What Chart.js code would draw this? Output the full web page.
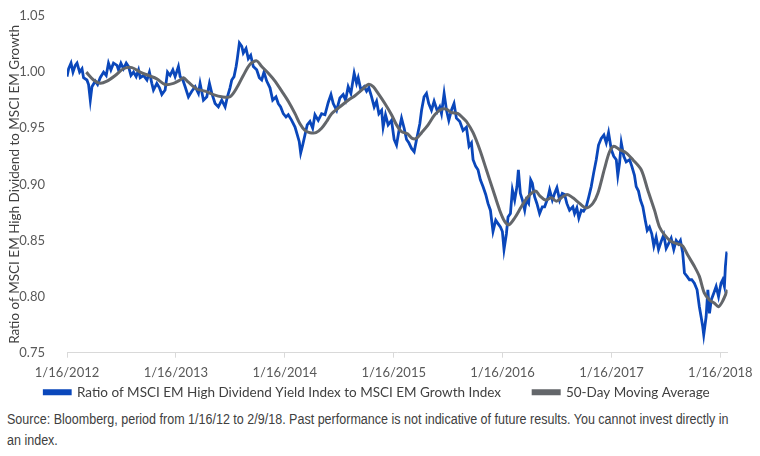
<!DOCTYPE html>
<html>
<head>
<meta charset="utf-8">
<script src="https://cdn.jsdelivr.net/npm/chart.js@4.4.1/dist/chart.umd.min.js"></script>
<style>
  body { margin: 0; background: #fff; }
  #wrap { position: relative; width: 760px; height: 456px; overflow: hidden; }
  #chart-box { position: absolute; left: 0; top: 0; width: 760px; height: 409px; }
  #note {
    position: absolute; left: 7px; top: 409px; white-space: nowrap;
    font-family: "Liberation Sans", Arial, sans-serif;
    font-size: 14px; line-height: 21px; color: #404040;
    transform: scaleX(0.895); transform-origin: left top;
  }
</style>
</head>
<body>
<div id="wrap">
  <div id="chart-box"><canvas id="ratioChart" width="760" height="409"></canvas></div>
  <div id="note">Source: Bloomberg, period from 1/16/12 to 2/9/18. Past performance is not indicative of future results. You cannot invest directly in<br>an index.</div>
</div>
<script>
// x = years since 1/16/2012
const startYear = 2012;
const tickYears = [0, 1, 2, 3, 4, 5, 6];

const ratioX = [
  0.000, 0.015, 0.037, 0.055, 0.076, 0.092, 0.116, 0.138, 0.152, 0.183, 0.198, 0.214, 0.229, 0.260, 0.281, 0.305,
  0.336, 0.360, 0.381, 0.403, 0.427, 0.459, 0.473, 0.495, 0.519, 0.544, 0.565, 0.587, 0.611, 0.635, 0.657, 0.672,
  0.702, 0.734, 0.757, 0.779, 0.794, 0.825, 0.849, 0.871, 0.901, 0.923, 0.947, 0.972, 0.993, 1.023, 1.039, 1.064,
  1.085, 1.115, 1.146, 1.177, 1.207, 1.222, 1.253, 1.284, 1.308, 1.330, 1.360, 1.390, 1.421, 1.452, 1.473, 1.497,
  1.513, 1.534, 1.553, 1.564, 1.583, 1.605, 1.619, 1.644, 1.665, 1.687, 1.711, 1.742, 1.766, 1.788, 1.809, 1.834,
  1.864, 1.889, 1.919, 1.940, 1.962, 1.986, 2.011, 2.032, 2.063, 2.094, 2.115, 2.133, 2.146, 2.164, 2.185, 2.206,
  2.231, 2.256, 2.277, 2.307, 2.338, 2.369, 2.399, 2.424, 2.445, 2.476, 2.506, 2.536, 2.558, 2.582, 2.607, 2.637,
  2.659, 2.674, 2.699, 2.729, 2.751, 2.772, 2.797, 2.821, 2.843, 2.864, 2.889, 2.903, 2.925, 2.949, 2.980, 3.004,
  3.026, 3.047, 3.072, 3.096, 3.118, 3.139, 3.164, 3.188, 3.210, 3.240, 3.256, 3.279, 3.301, 3.322, 3.347, 3.371,
  3.402, 3.423, 3.439, 3.463, 3.485, 3.506, 3.530, 3.554, 3.576, 3.607, 3.637, 3.668, 3.692, 3.714, 3.729, 3.753,
  3.774, 3.796, 3.820, 3.845, 3.866, 3.888, 3.912, 3.937, 3.958, 3.980, 3.998, 4.013, 4.035, 4.050, 4.072, 4.090,
  4.111, 4.132, 4.145, 4.163, 4.182, 4.203, 4.218, 4.239, 4.258, 4.273, 4.294, 4.315, 4.340, 4.365, 4.386, 4.416,
  4.432, 4.457, 4.478, 4.499, 4.524, 4.548, 4.569, 4.590, 4.615, 4.645, 4.661, 4.682, 4.700, 4.723, 4.744, 4.768,
  4.792, 4.814, 4.836, 4.860, 4.881, 4.906, 4.930, 4.952, 4.973, 4.998, 5.021, 5.044, 5.058, 5.074, 5.090, 5.113,
  5.135, 5.166, 5.187, 5.211, 5.227, 5.248, 5.266, 5.288, 5.310, 5.328, 5.349, 5.370, 5.389, 5.410, 5.432, 5.456,
  5.480, 5.502, 5.523, 5.548, 5.572, 5.594, 5.615, 5.633, 5.654, 5.670, 5.694, 5.716, 5.737, 5.761, 5.786, 5.807,
  5.823, 5.838, 5.847, 5.869, 5.885, 5.900, 5.916, 5.939, 5.961, 5.983, 6.006, 6.021, 6.037, 6.046, 6.058, 6.066
];
const ratioY = [
  0.996, 1.003, 1.008, 1.000, 1.006, 1.008, 1.000, 1.003, 0.995, 0.993, 0.989, 0.975, 0.987, 0.992, 0.989, 0.995,
  1.000, 0.997, 1.008, 1.002, 1.008, 1.006, 1.002, 1.008, 1.003, 1.008, 1.005, 0.997, 1.000, 0.996, 1.002, 0.995,
  0.997, 0.993, 1.000, 0.990, 0.984, 0.990, 0.986, 0.980, 0.984, 1.000, 0.997, 1.002, 0.996, 1.005, 0.996, 0.993,
  0.987, 0.978, 0.983, 0.987, 0.981, 0.990, 0.975, 0.978, 0.990, 0.981, 0.972, 0.969, 0.975, 0.969, 0.978, 0.986,
  0.993, 0.996, 1.005, 1.012, 1.026, 1.023, 1.017, 1.021, 1.012, 1.015, 1.005, 1.002, 0.995, 0.993, 1.000, 0.992,
  0.986, 0.975, 0.978, 0.972, 0.969, 0.963, 0.960, 0.962, 0.957, 0.951, 0.944, 0.938, 0.928, 0.935, 0.944, 0.953,
  0.956, 0.950, 0.962, 0.957, 0.963, 0.962, 0.973, 0.980, 0.972, 0.966, 0.977, 0.980, 0.975, 0.987, 0.981, 0.999,
  0.990, 0.995, 0.984, 0.987, 0.983, 0.986, 0.978, 0.969, 0.974, 0.963, 0.966, 0.951, 0.962, 0.953, 0.957, 0.940,
  0.935, 0.947, 0.959, 0.950, 0.940, 0.937, 0.932, 0.929, 0.940, 0.954, 0.966, 0.978, 0.981, 0.972, 0.966, 0.974,
  0.965, 0.969, 0.963, 0.981, 0.966, 0.957, 0.966, 0.972, 0.959, 0.956, 0.948, 0.951, 0.934, 0.937, 0.922, 0.916,
  0.913, 0.904, 0.898, 0.891, 0.883, 0.877, 0.858, 0.868, 0.865, 0.862, 0.858, 0.842, 0.856, 0.871, 0.874, 0.895,
  0.886, 0.898, 0.913, 0.892, 0.886, 0.877, 0.886, 0.883, 0.904, 0.901, 0.889, 0.883, 0.874, 0.880, 0.880, 0.888,
  0.895, 0.886, 0.892, 0.897, 0.886, 0.892, 0.891, 0.883, 0.877, 0.880, 0.874, 0.879, 0.870, 0.877, 0.876, 0.880,
  0.889, 0.898, 0.910, 0.922, 0.935, 0.941, 0.944, 0.937, 0.946, 0.931, 0.925, 0.922, 0.908, 0.919, 0.937, 0.925,
  0.920, 0.922, 0.916, 0.908, 0.898, 0.894, 0.886, 0.880, 0.868, 0.859, 0.862, 0.856, 0.845, 0.853, 0.842, 0.849,
  0.855, 0.843, 0.847, 0.852, 0.842, 0.850, 0.847, 0.850, 0.839, 0.821, 0.818, 0.815, 0.815, 0.812, 0.806, 0.791,
  0.782, 0.773, 0.766, 0.782, 0.806, 0.785, 0.797, 0.803, 0.809, 0.800, 0.812, 0.815, 0.809, 0.827, 0.839, 0.839
];

const maX = [
  0.177, 0.244, 0.305, 0.367, 0.443, 0.519, 0.596, 0.672, 0.748, 0.825, 0.901, 0.978, 1.039, 1.069, 1.115, 1.192,
  1.268, 1.344, 1.421, 1.497, 1.559, 1.619, 1.681, 1.742, 1.788, 1.849, 1.910, 1.972, 2.032, 2.094, 2.139, 2.185,
  2.231, 2.286, 2.338, 2.384, 2.430, 2.506, 2.582, 2.644, 2.705, 2.766, 2.812, 2.857, 2.919, 2.980, 3.026, 3.072,
  3.127, 3.169, 3.210, 3.256, 3.316, 3.377, 3.439, 3.485, 3.530, 3.591, 3.637, 3.668, 3.729, 3.790, 3.851, 3.912,
  3.973, 4.019, 4.059, 4.111, 4.172, 4.233, 4.303, 4.340, 4.395, 4.448, 4.494, 4.539, 4.591, 4.646, 4.707, 4.768,
  4.829, 4.875, 4.936, 4.982, 5.021, 5.074, 5.135, 5.196, 5.273, 5.333, 5.395, 5.441, 5.487, 5.548, 5.608, 5.654,
  5.700, 5.761, 5.807, 5.853, 5.900, 5.946, 5.983, 6.021, 6.066
];
const maY = [
  1.000, 0.993, 0.990, 0.992, 0.997, 1.003, 1.004, 1.000, 0.997, 0.994, 0.989, 0.990, 0.993, 0.995, 0.991, 0.985,
  0.983, 0.980, 0.978, 0.978, 0.986, 0.997, 1.007, 1.010, 1.005, 0.999, 0.992, 0.983, 0.974, 0.963, 0.954, 0.948,
  0.946, 0.946, 0.950, 0.956, 0.963, 0.969, 0.975, 0.979, 0.984, 0.989, 0.987, 0.981, 0.972, 0.962, 0.953, 0.947,
  0.945, 0.941, 0.941, 0.946, 0.953, 0.962, 0.967, 0.967, 0.964, 0.963, 0.959, 0.956, 0.946, 0.931, 0.913, 0.895,
  0.877, 0.867, 0.864, 0.870, 0.880, 0.889, 0.894, 0.890, 0.886, 0.888, 0.885, 0.888, 0.891, 0.888, 0.883, 0.879,
  0.883, 0.892, 0.914, 0.929, 0.934, 0.931, 0.928, 0.922, 0.913, 0.895, 0.877, 0.862, 0.855, 0.849, 0.847, 0.845,
  0.837, 0.827, 0.818, 0.803, 0.797, 0.794, 0.791, 0.796, 0.806
];

const ratioLabel = 'Ratio of MSCI EM High Dividend Yield Index to MSCI EM Growth Index';
const maLabel = '50-Day Moving Average';

function toPoints(xs, ys) {
  return xs.map((x, i) => ({ x: x, y: ys[i] }));
}

const fontName = 'Lato, "Open Sans", sans-serif';
const textGray = '#595959';

// default legend items, with a wider gap after the first one
function legendItems(chart) {
  const items = Chart.defaults.plugins.legend.labels.generateLabels(chart);
  items.forEach(item => {
    if (item.text === ratioLabel) item.text = ratioLabel + '       ';
  });
  return items;
}

// legend is centred on the whole canvas, not on the padded area
const centreLegend = {
  id: 'centreLegend',
  afterLayout(chart) {
    const shift = 11;
    chart.legend.left += shift;
    chart.legend.right += shift;
  }
};

const ctx = document.getElementById('ratioChart').getContext('2d');
new Chart(ctx, {
  type: 'line',
  data: {
    datasets: [
      // gray first so it is drawn on top of the blue line
      {
        label: maLabel,
        data: toPoints(maX, maY),
        borderColor: '#63666a',
        backgroundColor: '#63666a',
        borderWidth: 3,
        pointRadius: 0,
        tension: 0.3
      },
      {
        label: ratioLabel,
        data: toPoints(ratioX, ratioY),
        borderColor: '#0a47bb',
        backgroundColor: '#0a47bb',
        borderWidth: 2.8,
        pointRadius: 0,
        tension: 0
      }
    ]
  },
  options: {
    responsive: false,
    animation: false,
    layout: { padding: { top: 16, right: 32, left: 4, bottom: 0 } },
    plugins: {
      tooltip: { enabled: false },
      legend: {
        position: 'bottom',
        reverse: true,
        labels: {
          boxWidth: 26,
          boxHeight: 3,
          padding: 8,
          color: '#404040',
          font: { family: fontName, size: 13.5 },
          generateLabels: legendItems
        }
      }
    },
    scales: {
      x: {
        type: 'linear',
        min: 0,
        max: 6.066,
        grid: { drawOnChartArea: false, color: '#d9d9d9', tickLength: 5 },
        border: { color: '#d9d9d9' },
        ticks: {
          stepSize: 1,
          includeBounds: false,
          autoSkip: false,
          maxRotation: 0,
          padding: 7,
          color: textGray,
          font: { family: fontName, size: 13 },
          callback: (v) => tickYears.includes(v) ? '1/16/' + (startYear + v) : ''
        },
        afterFit: (scale) => { scale.height = 24.8; }
      },
      y: {
        min: 0.75,
        max: 1.05,
        grid: { display: false },
        border: { display: false },
        ticks: {
          stepSize: 0.05,
          padding: 14,
          color: textGray,
          font: { family: fontName, size: 13 },
          callback: (v) => v.toFixed(2)
        },
        title: {
          display: true,
          text: 'Ratio of MSCI EM High Dividend to MSCI EM Growth',
          color: '#404040',
          font: { family: fontName, size: 13.5 },
          padding: { top: 2.5, bottom: 0 }
        },
        afterFit: (scale) => {
          scale.width = 63;
          scale.paddingTop = 0;
          scale.paddingBottom = 0;
        }
      }
    }
  },
  plugins: [centreLegend]
});
</script>
</body>
</html>
